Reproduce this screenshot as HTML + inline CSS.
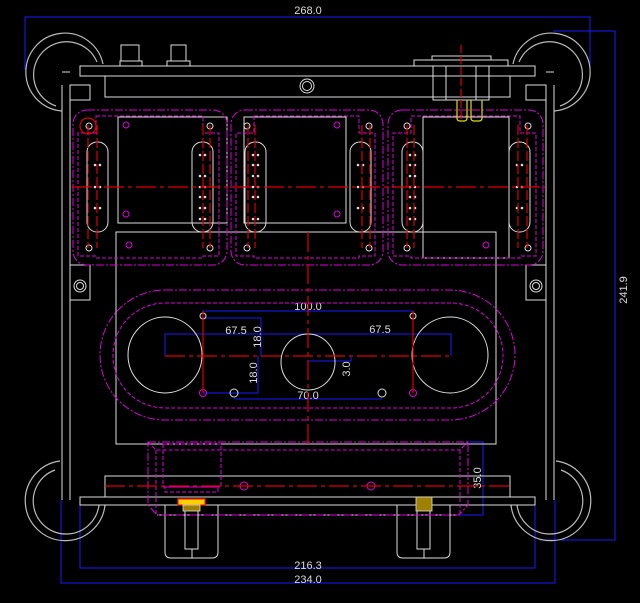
<!DOCTYPE html>
<html><head><meta charset="utf-8"><style>
html,body{margin:0;padding:0;background:#000;}
svg{display:block}
text{font-family:"Liberation Sans",sans-serif;font-size:11px;fill:#ddd;}
</style></head><body>
<svg width="640" height="603" viewBox="0 0 640 603" xmlns="http://www.w3.org/2000/svg">
<rect width="640" height="603" fill="#000"/>
<g stroke="#1a1aff" stroke-width="1" fill="none">
<path d="M25 70 V17 H590 V70"/>
<path d="M553 31 H615 V540 H540"/>
<path d="M80 505 V568 H535 V505"/>
<path d="M61 500 V583 H555 V500"/>
<path d="M468 442 H483 V515 H459"/>
<path d="M203 311 H413"/>
<path d="M165 356 V334 H451 V356"/>
<path d="M203 318 H261 V356"/>
<path d="M258 356 V393 H203"/>
<path d="M234 399 H382"/>
<path d="M308 361 H351 V356"/>
</g>
<text x="308" y="14" text-anchor="middle">268.0</text>
<text x="0" y="0" text-anchor="middle" transform="translate(627,290) rotate(-90)">241.9</text>
<text x="308" y="569" text-anchor="middle">216.3</text>
<text x="308" y="583" text-anchor="middle">234.0</text>
<text x="0" y="0" text-anchor="middle" transform="translate(481,478) rotate(-90)">35.0</text>
<text x="308" y="310" text-anchor="middle">100.0</text>
<text x="236" y="334" text-anchor="middle">67.5</text>
<text x="380" y="333" text-anchor="middle">67.5</text>
<text x="0" y="0" text-anchor="middle" transform="translate(261,337) rotate(-90)">18.0</text>
<text x="0" y="0" text-anchor="middle" transform="translate(257,373) rotate(-90)">18.0</text>
<text x="0" y="0" text-anchor="middle" transform="translate(350,369) rotate(-90)">3.0</text>
<text x="308" y="399" text-anchor="middle">70.0</text>

<g fill="none" stroke="#bbb" stroke-width="1.2">
<path d="M62 111 A39 39 0 1 1 103 64"/>
<path d="M56 106 A33 33 0 1 1 97 62"/>
<path d="M554 111 A39 39 0 1 0 513 64"/>
<path d="M560 106 A33 33 0 1 0 519 62"/>
<path d="M60 461 A40 40 0 1 0 105 505"/>
<path d="M55 470 A33 33 0 1 0 99 505"/>
<path d="M556 461 A40 40 0 1 1 511 505"/>
<path d="M561 470 A33 33 0 1 1 517 505"/>
</g>
<g fill="none" stroke="#ddd" stroke-width="1">
<rect x="80" y="66" width="455" height="10"/>
<rect x="105" y="76" width="405" height="21"/>
<rect x="121" y="45" width="18" height="16"/><rect x="120" y="61" width="22" height="5"/>
<rect x="171" y="45" width="15" height="16"/><rect x="167" y="61" width="23" height="5"/>
<circle cx="307" cy="86" r="7"/><circle cx="307" cy="86" r="4.5"/>
<rect x="432" y="56" width="59" height="4"/>
<rect x="414" y="60" width="94" height="6"/>
<rect x="433" y="66" width="56" height="34"/>
<line x1="446" y1="66" x2="446" y2="100"/><line x1="476" y1="66" x2="476" y2="100"/>
<path d="M62 85 V500 M70 85 V500 M546 85 V500 M554 85 V500"/>
<rect x="70" y="85" width="20" height="15"/><rect x="526" y="85" width="20" height="15"/>
<rect x="70" y="265" width="20" height="35"/><rect x="526" y="265" width="20" height="35"/>
<circle cx="80" cy="286" r="6"/><circle cx="80" cy="286" r="3.5"/>
<circle cx="536" cy="286" r="6"/><circle cx="536" cy="286" r="3.5"/>
<path d="M62 72 h8 M546 72 h8"/>
<rect x="118" y="117" width="109" height="106"/>
<rect x="244" y="117" width="102" height="106"/>
<rect x="423" y="117" width="86" height="141"/>
<rect x="116" y="232" width="380" height="212"/>
<rect x="105" y="476" width="405" height="21"/>
<rect x="80" y="497" width="455" height="8"/>
<path d="M157 515 H459"/>
<path d="M165 505 V552 Q165 558 171 558 H212 Q218 558 218 552 V505"/>
<rect x="185" y="510" width="13" height="39"/><line x1="192" y1="549" x2="192" y2="558"/>
<path d="M397 505 V552 Q397 558 403 558 H444 Q450 558 450 552 V505"/>
<rect x="417" y="510" width="13" height="39"/><line x1="424" y1="549" x2="424" y2="558"/>
<rect x="87" y="142" width="21" height="90" rx="10"/>
<rect x="192" y="142" width="21" height="90" rx="10"/>
<rect x="245" y="142" width="21" height="90" rx="10"/>
<rect x="350" y="142" width="21" height="90" rx="10"/>
<rect x="402" y="142" width="21" height="90" rx="10"/>
<rect x="509" y="142" width="21" height="90" rx="10"/>
<ellipse cx="165" cy="355" rx="37" ry="38"/>
<ellipse cx="308" cy="362" rx="27" ry="28"/>
<ellipse cx="450" cy="355" rx="38" ry="38"/>
<circle cx="203" cy="316" r="3"/><circle cx="413" cy="316" r="3"/>
<circle cx="234" cy="393" r="4"/><circle cx="382" cy="393" r="4"/>
</g>
<g fill="#ddd">
<circle cx="95" cy="165" r="1.3"/><circle cx="100" cy="165" r="1.3"/>
<circle cx="95" cy="187" r="1.3"/><circle cx="100" cy="187" r="1.3"/>
<circle cx="95" cy="208" r="1.3"/><circle cx="100" cy="208" r="1.3"/>
<circle cx="200" cy="155" r="1.3"/><circle cx="205" cy="155" r="1.3"/>
<circle cx="200" cy="176" r="1.3"/><circle cx="205" cy="176" r="1.3"/>
<circle cx="200" cy="187" r="1.3"/><circle cx="205" cy="187" r="1.3"/>
<circle cx="200" cy="197" r="1.3"/><circle cx="205" cy="197" r="1.3"/>
<circle cx="200" cy="208" r="1.3"/><circle cx="205" cy="208" r="1.3"/>
<circle cx="200" cy="219" r="1.3"/><circle cx="205" cy="219" r="1.3"/>
<circle cx="253" cy="155" r="1.3"/><circle cx="258" cy="155" r="1.3"/>
<circle cx="253" cy="165" r="1.3"/><circle cx="258" cy="165" r="1.3"/>
<circle cx="253" cy="176" r="1.3"/><circle cx="258" cy="176" r="1.3"/>
<circle cx="253" cy="187" r="1.3"/><circle cx="258" cy="187" r="1.3"/>
<circle cx="253" cy="197" r="1.3"/><circle cx="258" cy="197" r="1.3"/>
<circle cx="253" cy="219" r="1.3"/><circle cx="258" cy="219" r="1.3"/>
<circle cx="358" cy="165" r="1.3"/><circle cx="363" cy="165" r="1.3"/>
<circle cx="358" cy="187" r="1.3"/><circle cx="363" cy="187" r="1.3"/>
<circle cx="358" cy="208" r="1.3"/><circle cx="363" cy="208" r="1.3"/>
<circle cx="410" cy="155" r="1.3"/><circle cx="415" cy="155" r="1.3"/>
<circle cx="410" cy="165" r="1.3"/><circle cx="415" cy="165" r="1.3"/>
<circle cx="410" cy="176" r="1.3"/><circle cx="415" cy="176" r="1.3"/>
<circle cx="410" cy="187" r="1.3"/><circle cx="415" cy="187" r="1.3"/>
<circle cx="410" cy="197" r="1.3"/><circle cx="415" cy="197" r="1.3"/>
<circle cx="410" cy="208" r="1.3"/><circle cx="415" cy="208" r="1.3"/>
<circle cx="410" cy="219" r="1.3"/><circle cx="415" cy="219" r="1.3"/>
<circle cx="517" cy="165" r="1.3"/><circle cx="522" cy="165" r="1.3"/>
<circle cx="517" cy="187" r="1.3"/><circle cx="522" cy="187" r="1.3"/>
<circle cx="517" cy="208" r="1.3"/><circle cx="522" cy="208" r="1.3"/>
</g>
<g fill="none" stroke="#e000e0" stroke-width="1" stroke-dasharray="8 2 2 2">
<rect x="73" y="110" width="154" height="155" rx="14"/>
<rect x="231" y="110" width="152" height="155" rx="14"/>
<rect x="388" y="110" width="155" height="155" rx="14"/>
<rect x="100" y="290" width="415" height="130" rx="65"/>
<path d="M148 442 H468 V505 L459 515 H157 L148 505 Z"/>
</g>
<g fill="none" stroke="#e000e0" stroke-width="1" stroke-dasharray="4 2">
<path d="M96 116 H203 V133 H219 V256 H203 V258 H96 V256 H78 V133 H96 Z"/>
<path d="M254 116 H359 V133 H375 V256 H359 V258 H254 V256 H236 V133 H254 Z"/>
<path d="M411 116 H520 V133 H536 V256 H520 V258 H411 V256 H393 V133 H411 Z"/>
<rect x="113" y="303" width="390" height="105" rx="52"/>
<path d="M148 442 L156 450 H460 L468 442 M156 450 V515 M460 450 V515"/>
<rect x="163" y="444" width="58" height="43"/>
<rect x="165" y="487" width="53" height="5"/>
</g>
<g fill="none" stroke="#e000e0" stroke-width="1">
<circle cx="126" cy="125" r="3"/><circle cx="126" cy="214" r="3"/><circle cx="129" cy="245" r="3"/>
<circle cx="337" cy="125" r="3"/><circle cx="337" cy="214" r="3"/><circle cx="486" cy="245" r="3"/>
<circle cx="203" cy="393" r="3.5"/><circle cx="413" cy="393" r="3.5"/>
<circle cx="244" cy="486" r="4"/><circle cx="371" cy="486" r="4"/>
</g>
<g fill="none" stroke="#ddd" stroke-width="1">
<circle cx="89" cy="126" r="3"/><circle cx="89" cy="248" r="3"/>
<circle cx="210" cy="126" r="3"/><circle cx="210" cy="248" r="3"/>
<circle cx="247" cy="126" r="3"/><circle cx="247" cy="248" r="3"/>
<circle cx="369" cy="126" r="3"/><circle cx="369" cy="248" r="3"/>
<circle cx="407" cy="126" r="3"/><circle cx="407" cy="248" r="3"/>
<circle cx="528" cy="126" r="3"/><circle cx="528" cy="248" r="3"/>
</g>
<g fill="none" stroke="#e00000" stroke-width="1.2">
<circle cx="88" cy="126" r="8"/>
<path d="M72 187 H545" stroke-dasharray="20 4 4 4"/>
<path d="M308 232 V444" stroke-dasharray="20 4 4 4"/>
<path d="M165 356 H451" stroke-dasharray="20 4 4 4"/>
<path d="M203 311 V393 M413 311 V393"/>
<path d="M105 486 H510" stroke-dasharray="20 4 4 4"/>
<path d="M88 125 V248 M97 125 V248 M203 125 V248 M210 125 V248 M248 125 V248 M255 125 V248 M362 125 V248 M370 125 V248 M407 125 V248 M414 125 V248 M518 125 V248 M527 125 V248" stroke-dasharray="10 3"/>
<path d="M461 45 V120" stroke-dasharray="8 3"/>
</g>
<g fill="none" stroke="#e0e000" stroke-width="1.2">
<path d="M457 100 V118 Q457 121 460 121 H464 Q467 121 467 118 V100"/>
<path d="M471 100 V118 Q471 121 474 121 H479 Q482 121 482 118 V100"/>
</g>
<rect x="178" y="499" width="27" height="6" fill="#ffd000" stroke="#ff2000" stroke-width="1.2"/>
<rect x="183" y="505" width="17" height="6" fill="#a08000" stroke="#ddd" stroke-width="0.8"/>
<rect x="416" y="497" width="16" height="14" fill="#a08000" stroke="#ddd" stroke-width="0.8"/>
</svg>
</body></html>
